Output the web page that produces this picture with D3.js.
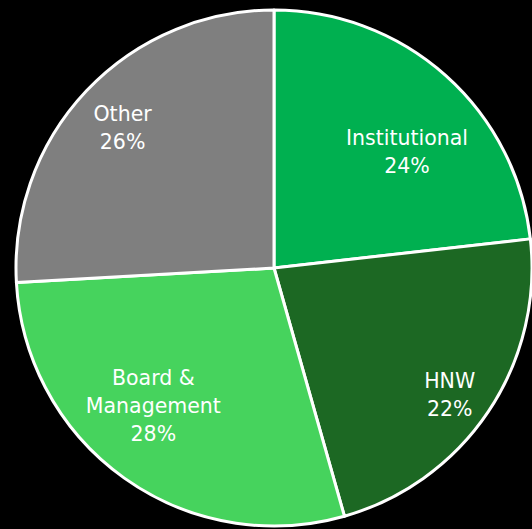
<!DOCTYPE html>
<html>
<head>
<meta charset="utf-8">
<script src="https://cdn.jsdelivr.net/npm/d3@7"></script>
<style>
  html, body { margin: 0; padding: 0; background: #000; }
  svg { display: block; }
</style>
</head>
<body>
<div id="chart"></div>
<script>
var categories = ["Institutional", "HNW", "Board & Management", "Other"];
var values = [23.2, 22.4, 28.5, 25.9];
var pct_labels = ["24%", "22%", "28%", "26%"];
var label_lines = [["Institutional"], ["HNW"], ["Board &", "Management"], ["Other"]];

var slice_color = ["#00b050", "#1c6823", "#46d35d", "#7f7f7f"];
// label placement: fraction of radius and angle nudge (rad)
var label_pos = [[0.685, 0.123], [0.84, 0.035], [0.71, 0.10], [0.80, -0.01]];

var W = 532, H = 529;
var cx = 274, cy = 268, R = 258;
var lineH = 28;

var svg = d3.select('#chart').append('svg')
    .attr('width', W)
    .attr('height', H)
    .style('background', '#000');

var g = svg.append('g').attr('transform', 'translate(' + cx + ',' + cy + ')');

var pie = d3.pie().sort(null).value(function(d){ return d; });
var arcs = pie(values);
var arc = d3.arc().innerRadius(0).outerRadius(R);

g.selectAll('path')
    .data(arcs)
    .enter()
    .append('path')
    .attr('d', arc)
    .attr('fill', function(d, i){ return slice_color[i]; })
    .attr('stroke', '#fff')
    .attr('stroke-width', 3)
    .attr('stroke-linejoin', 'round');

var labels = g.selectAll('text.lbl')
    .data(arcs)
    .enter()
    .append('text')
    .attr('class', 'lbl')
    .attr('text-anchor', 'middle')
    .attr('fill', '#fff')
    .attr('font-family', '"DejaVu Sans", sans-serif')
    .attr('font-size', '20.5px')
    .each(function(d, i){
        var a = (d.startAngle + d.endAngle) / 2 + label_pos[i][1];
        var rr = R * label_pos[i][0];
        var x = Math.sin(a) * rr, y = -Math.cos(a) * rr;
        var lines = label_lines[i].concat([pct_labels[i]]);
        var y0 = y - (lines.length - 1) * lineH / 2;
        var t = d3.select(this);
        lines.forEach(function(s, k){
            t.append('tspan')
                .attr('x', x)
                .attr('y', y0 + k * lineH)
                .attr('dy', '0.36em')
                .text(s);
        });
    });
</script>
</body>
</html>
